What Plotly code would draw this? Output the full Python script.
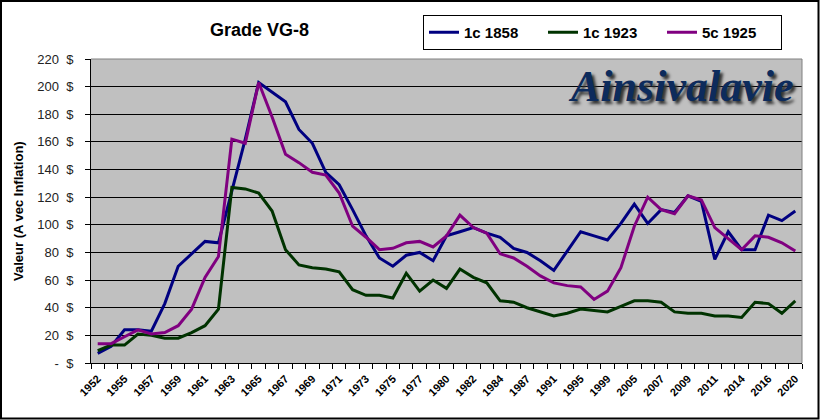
import plotly.graph_objects as go

# ---------------- data ----------------
years = ["1952", "1954", "1955", "1956", "1957", "1958", "1959", "1960", "1961", "1962",
         "1963", "1964", "1965", "1966", "1967", "1968", "1969", "1970", "1971", "1972",
         "1973", "1974", "1975", "1976", "1977", "1979", "1980", "1981", "1982", "1983",
         "1984", "1986", "1987", "1989", "1991", "1993", "1995", "1997", "1999", "2003",
         "2005", "2006", "2007", "2008", "2009", "2010", "2011", "2013", "2014", "2015",
         "2016", "2018", "2020"]

s_1c_1858 = [7, 12, 24, 24, 23, 43, 70, 79, 88, 87, 124, 162, 203, 196, 189, 169, 159, 138, 129, 111,
             92, 76, 70, 78, 80, 74, 92, 95, 98, 94, 91, 83, 80, 74, 67, 81, 95, 92, 89, 101,
             115, 101, 111, 109, 121, 117, 75, 95, 82, 82, 107, 103, 110]
s_1c_1923 = [9, 13, 13, 21, 20, 18, 18, 22, 27, 39, 127, 126, 123, 110, 82, 71, 69, 68, 66, 53,
             49, 49, 47, 65, 52, 60, 54, 68, 62, 58, 45, 44, 40, 37, 34, 36, 39, 38, 37, 41,
             45, 45, 44, 37, 36, 36, 34, 34, 33, 44, 43, 36, 45]
s_5c_1925 = [14, 14, 19, 24, 21, 22, 27, 39, 62, 77, 162, 159, 203, 178, 151, 145, 138, 136, 123, 99,
             91, 82, 83, 87, 88, 84, 92, 107, 98, 94, 79, 76, 70, 63, 58, 56, 55, 46, 52, 69,
             99, 120, 111, 108, 121, 118, 98, 90, 82, 92, 91, 87, 81]

series_names = ["1c 1858", "1c 1923", "5c 1925"]
y_tick_values = [0, 20, 40, 60, 80, 100, 120, 140, 160, 180, 200, 220]
y_tick_labels = [("-" if v == 0 else str(v)) + "\u00a0\u00a0$" for v in y_tick_values]

# ---------------- layout helpers ----------------
W, H = 820, 420
L, R, T, B = 91, 18, 59, 57
PW, PH = W - L - R, H - T - B


def px_x(px):
    return (px - L) / PW


def px_y(py):
    return (H - B - py) / PH


FONT = "Liberation Sans, Arial, sans-serif"
idx = list(range(len(years)))

fig = go.Figure()
colors = ["#000080", "#003300", "#800080"]
for name, vals, col in zip(series_names, [s_1c_1858, s_1c_1923, s_5c_1925], colors):
    fig.add_trace(go.Scatter(x=idx, y=vals, mode="lines", name=name,
                             line=dict(color=col, width=3)))

fig.update_layout(
    width=W, height=H,
    margin=dict(l=L, r=R, t=T, b=B, pad=0, autoexpand=False),
    paper_bgcolor="white",
    plot_bgcolor="#C0C0C0",
    font=dict(family=FONT, color="black"),
    showlegend=True,
    legend=dict(orientation="h", x=px_x(423), y=px_y(15), xanchor="left", yanchor="top",
                bordercolor="black", borderwidth=1, bgcolor="white",
                font=dict(size=15, weight="bold", family=FONT),
                entrywidth=74, entrywidthmode="pixels", itemwidth=30,
                tracegroupgap=0),
)

fig.update_xaxes(
    range=[-0.5, len(years) - 0.5],
    tickmode="array", tickvals=idx[::2], ticktext=years[::2],
    tickangle=-45, ticks="", showgrid=False, zeroline=False,
    showline=True, linecolor="black", linewidth=1,
    tickfont=dict(size=11, weight="bold", family=FONT),
    ticklabelstandoff=4,
    minor=dict(tickmode="array", tickvals=[i - 0.5 for i in range(len(years) + 1)],
               ticks="outside", ticklen=5, tickcolor="black", tickwidth=1, showgrid=False),
)
fig.update_yaxes(
    range=[0, 220], tickmode="array", tickvals=y_tick_values, ticktext=y_tick_labels,
    ticks="outside", ticklen=5, tickcolor="black",
    showgrid=True, gridcolor="black", gridwidth=1,
    zeroline=False, showline=True, linecolor="black", linewidth=1,
    tickfont=dict(size=13, color="#222", family=FONT),
    ticklabelstandoff=9,
)

shapes = [
    # plot area top & right border (gray)
    dict(type="line", xref="paper", yref="paper", x0=0, x1=1, y0=1, y1=1,
         line=dict(color="#808080", width=1), layer="above"),
    dict(type="line", xref="paper", yref="paper", x0=1, x1=1, y0=0, y1=1,
         line=dict(color="#808080", width=1), layer="above"),
    # outer chart border
    dict(type="rect", xref="paper", yref="paper", x0=px_x(1), x1=px_x(818.5),
         y0=px_y(418.5), y1=px_y(1), line=dict(color="black", width=2)),
]
fig.update_layout(shapes=shapes)

fig.add_annotation(text="<b>Grade VG-8</b>", xref="paper", yref="paper",
                   x=px_x(259), y=px_y(30), xanchor="center", yanchor="middle",
                   showarrow=False, font=dict(size=18, family=FONT, color="black"))
fig.add_annotation(text="<b>Valeur (A vec Inflation)</b>", xref="paper", yref="paper",
                   x=px_x(18), y=0.5, xanchor="center", yanchor="middle", textangle=-90,
                   showarrow=False, font=dict(size=13, family=FONT, color="black"))
fig.add_annotation(text="<b><i>Ainsivalavie</i></b>", xref="paper", yref="paper",
                   x=px_x(795), y=px_y(87), xanchor="right", yanchor="middle",
                   showarrow=False,
                   font=dict(size=44, family="Liberation Serif, Times New Roman, serif",
                             color="#0d2b5c", shadow="3px 3px 3px #333"))

fig.write_html("out.html", config={"displayModeBar": False},
               post_script="document.body.style.margin='0';document.body.style.padding='0';")
